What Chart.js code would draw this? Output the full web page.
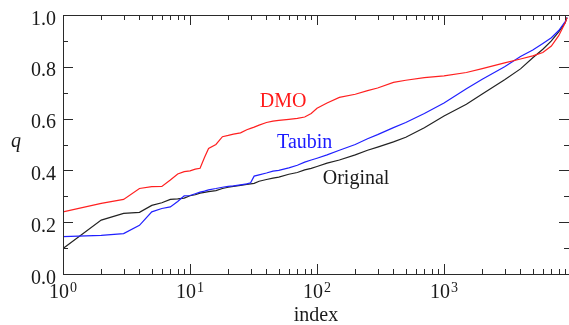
<!DOCTYPE html>
<html>
<head>
<meta charset="utf-8">
<script src="https://cdn.jsdelivr.net/npm/chart.js@4.4.0/dist/chart.umd.min.js"></script>
<style>
  body { margin: 0; background: #fff; }
  #wrap { width: 569px; height: 325px; }
</style>
</head>
<body>
<div id="wrap"><canvas id="chart" width="569" height="325"></canvas></div>
<script>
// index values
const indices = [1, 2, 3, 4, 5, 6, 7, 8, 9, 10, 11, 12, 13, 14, 16, 18, 20, 22, 25, 28, 30, 32, 35, 40, 45, 50, 60, 70, 80, 90, 100, 120, 150, 200, 250, 300, 400, 500, 700, 1000, 1500, 2000, 3000, 4000, 5000, 6000, 7000, 8000, 9000, 9300];

const dmo = [0.24, 0.273, 0.288, 0.33, 0.337, 0.338, 0.363, 0.386, 0.395, 0.398, 0.405, 0.408, 0.45, 0.485, 0.50, 0.53, 0.535, 0.54, 0.545, 0.557, 0.562, 0.567, 0.575, 0.585, 0.59, 0.593, 0.597, 0.601, 0.606, 0.62, 0.64, 0.66, 0.682, 0.694, 0.708, 0.718, 0.74, 0.748, 0.758, 0.765, 0.778, 0.793, 0.815, 0.83, 0.842, 0.855, 0.88, 0.92, 0.97, 0.99];

const taubin = [0.144, 0.149, 0.156, 0.188, 0.24, 0.253, 0.259, 0.28, 0.302, 0.303, 0.31, 0.316, 0.32, 0.325, 0.33, 0.335, 0.338, 0.34, 0.344, 0.348, 0.352, 0.378, 0.383, 0.39, 0.397, 0.40, 0.41, 0.42, 0.432, 0.44, 0.447, 0.46, 0.478, 0.50, 0.522, 0.538, 0.565, 0.585, 0.62, 0.66, 0.715, 0.752, 0.80, 0.84, 0.865, 0.89, 0.912, 0.94, 0.975, 0.99];

const original = [0.098, 0.208, 0.234, 0.238, 0.265, 0.275, 0.288, 0.29, 0.293, 0.302, 0.306, 0.312, 0.315, 0.318, 0.322, 0.33, 0.335, 0.338, 0.342, 0.346, 0.348, 0.35, 0.358, 0.365, 0.37, 0.374, 0.385, 0.392, 0.402, 0.408, 0.415, 0.428, 0.44, 0.46, 0.478, 0.49, 0.51, 0.528, 0.565, 0.61, 0.655, 0.695, 0.75, 0.792, 0.835, 0.868, 0.9, 0.935, 0.97, 0.99];

const yTicks = [0.0, 0.2, 0.4, 0.6, 0.8, 1.0];
const xDecades = [0, 1, 2, 3];

// text labels placed in data coordinates (index, q)
const seriesLabels = [
  { text: "DMO", x: 54, y: 0.645, color: "#ff1a1a" },
  { text: "Taubin", x: 80, y: 0.486, color: "#1a1aff" },
  { text: "Original", x: 203, y: 0.347, color: "#1a1a1a" },
];

const toPoints = (vals) => indices.map((ix, i) => ({ x: ix, y: vals[i] }));

const SERIF = "'Liberation Serif', 'Times New Roman', serif";

const axesPlugin = {
  id: "axesPlugin",
  afterDatasetsDraw(chart) {
    const ctx = chart.ctx;
    const a = chart.chartArea;
    const xs = chart.scales.x;
    const ys = chart.scales.y;
    const frame = "#2a2a2a";

    ctx.save();
    ctx.strokeStyle = frame;
    ctx.lineWidth = 1;
    ctx.beginPath();
    ctx.moveTo(a.left + 0.5, a.top + 0.5);
    ctx.lineTo(a.right + 0.5, a.top + 0.5);
    ctx.moveTo(a.left + 0.5, a.top + 0.5);
    ctx.lineTo(a.left + 0.5, a.bottom + 0.5);
    ctx.lineTo(a.right + 0.5, a.bottom + 0.5);
    ctx.lineTo(a.right + 0.5, a.top + 0.5);
    ctx.stroke();

    // x ticks, log decades with minors
    ctx.beginPath();
    for (const d of xDecades) {
      for (let m = 1; m <= 9; m++) {
        const v = m * Math.pow(10, d);
        if (v > xs.max) continue;
        const px = Math.round(xs.getPixelForValue(v)) + 0.5;
        const len = m === 1 ? 10 : 5;
        ctx.moveTo(px, a.bottom);
        ctx.lineTo(px, a.bottom - len);
        ctx.moveTo(px, a.top);
        ctx.lineTo(px, a.top + len);
      }
    }
    // y ticks
    for (let k = 0; k <= 10; k++) {
      const v = k / 10;
      const py = Math.round(ys.getPixelForValue(v)) + 0.5;
      const len = k % 2 === 0 ? 10 : 5;
      ctx.moveTo(a.left, py);
      ctx.lineTo(a.left + len, py);
      ctx.moveTo(a.right, py);
      ctx.lineTo(a.right - len, py);
    }
    ctx.stroke();

    // y tick labels
    ctx.fillStyle = "#1a1a1a";
    ctx.font = "20px " + SERIF;
    ctx.textAlign = "right";
    ctx.textBaseline = "alphabetic";
    for (const t of yTicks) {
      ctx.fillText(t.toFixed(1), a.left - 7, ys.getPixelForValue(t) + 9.5);
    }

    // x tick labels 10^n
    for (const d of xDecades) {
      const px = xs.getPixelForValue(Math.pow(10, d));
      ctx.font = "20px " + SERIF;
      const wBase = ctx.measureText("10").width;
      ctx.font = "14px " + SERIF;
      const wExp = ctx.measureText(String(d)).width;
      const left = px - (wBase + wExp + 1) / 2;
      ctx.textAlign = "left";
      ctx.font = "20px " + SERIF;
      ctx.fillText("10", left, a.bottom + 24);
      ctx.font = "14px " + SERIF;
      ctx.fillText(String(d), left + wBase + 1, a.bottom + 18);
    }

    // axis titles
    ctx.font = "20px " + SERIF;
    ctx.textAlign = "center";
    ctx.fillText("index", (a.left + a.right) / 2, a.bottom + 47);
    ctx.font = "italic 20px " + SERIF;
    ctx.fillText("q", 16, (a.top + a.bottom) / 2 + 2);

    // series labels
    ctx.font = "20px " + SERIF;
    for (const l of seriesLabels) {
      ctx.fillStyle = l.color;
      ctx.fillText(l.text, xs.getPixelForValue(l.x), ys.getPixelForValue(l.y));
    }
    ctx.restore();
  },
};

new Chart(document.getElementById("chart"), {
  type: "line",
  data: {
    datasets: [
      { label: "DMO", data: toPoints(dmo), borderColor: "#ff2020", borderWidth: 1.2 },
      { label: "Taubin", data: toPoints(taubin), borderColor: "#2020ff", borderWidth: 1.2 },
      { label: "Original", data: toPoints(original), borderColor: "#222222", borderWidth: 1.2 },
    ],
  },
  options: {
    responsive: false,
    animation: false,
    layout: { padding: { left: 63, top: 15, right: 0, bottom: 51 } },
    elements: { point: { radius: 0 }, line: { tension: 0 } },
    plugins: { legend: { display: false }, tooltip: { enabled: false } },
    scales: {
      x: { type: "logarithmic", min: 1, max: 9640, display: false },
      y: { type: "linear", min: 0, max: 1, display: false },
    },
  },
  plugins: [axesPlugin],
});
</script>
</body>
</html>
